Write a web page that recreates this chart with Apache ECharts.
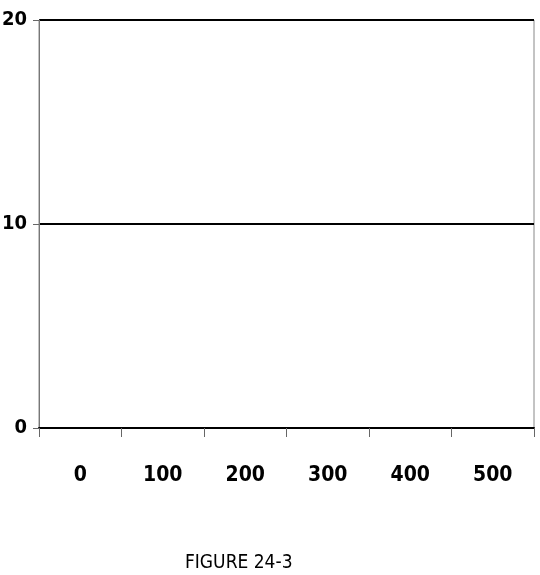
<!DOCTYPE html>
<html>
<head>
<meta charset="utf-8">
<script src="https://cdn.jsdelivr.net/npm/echarts@6/dist/echarts.min.js"></script>
<style>
  html, body { margin: 0; padding: 0; background: #fff; }
  #chart { width: 540px; height: 575px; }
</style>
</head>
<body>
<div id="chart"></div>
<script>
// chart data
var categories = ['0', '100', '200', '300', '400', '500'];
var seriesValues = [null, null, null, null, null, null];
var yMin = 0;
var yMax = 20;
var yStep = 10;
var captionText = 'FIGURE 24-3';

var narrowFont = '"DejaVu Sans Condensed", "Liberation Sans", sans-serif';

var chart = echarts.init(document.getElementById('chart'));

var option = {
  animation: false,
  backgroundColor: '#fff',
  title: {
    text: captionText,
    left: 180,
    top: 549,
    textStyle: {
      fontFamily: narrowFont,
      fontWeight: 'normal',
      fontSize: 19,
      color: '#000'
    }
  },
  grid: {
    left: 39,
    right: 6,
    top: 20,
    bottom: 147,
    outerBoundsMode: 'none',
    containLabel: false,
    show: true,
    borderColor: '#888',
    borderWidth: 1,
    backgroundColor: 'transparent'
  },
  xAxis: {
    type: 'category',
    data: categories,
    boundaryGap: true,
    axisLine: { show: true, lineStyle: { color: '#000', width: 2 } },
    axisTick: { show: true, length: 9, lineStyle: { color: '#666', width: 1 } },
    axisLabel: {
      margin: 37,
      fontFamily: narrowFont,
      fontWeight: 'bold',
      fontSize: 21,
      color: '#000'
    },
    splitLine: { show: false }
  },
  yAxis: {
    type: 'value',
    min: yMin,
    max: yMax,
    interval: yStep,
    axisLine: { show: true, lineStyle: { color: '#777', width: 1 } },
    axisTick: { show: true, length: 6, lineStyle: { color: '#666', width: 1 } },
    axisLabel: {
      margin: 12,
      fontFamily: narrowFont,
      fontWeight: 'bold',
      fontSize: 20,
      color: '#000'
    },
    splitLine: { show: true, lineStyle: { color: '#000', width: 2 } }
  },
  series: [{
    type: 'line',
    data: seriesValues,
    showSymbol: false,
    lineStyle: { color: '#000' }
  }]
};

chart.setOption(option);
</script>
</body>
</html>
